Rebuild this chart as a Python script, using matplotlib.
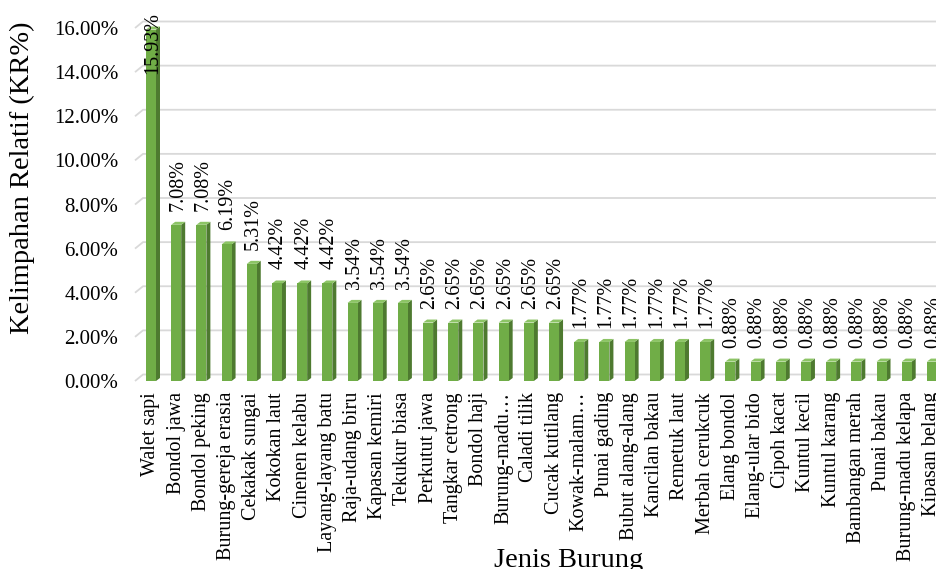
# grafik kelimpahan relatif jenis burung
import numpy as np
import matplotlib
matplotlib.use('Agg')
import matplotlib.pyplot as plt
from matplotlib.patches import Polygon

# data jenis burung dan nilai KR (%)
jenis = ['Walet sapi', 'Bondol jawa', 'Bondol peking', 'Burung-gereja erasia',
         'Cekakak sungai', 'Kokokan laut', 'Cinenen kelabu', 'Layang-layang batu',
         'Raja-udang biru', 'Kapasan kemiri', 'Tekukur biasa', 'Perkutut jawa',
         'Tangkar cetrong', 'Bondol haji', 'Burung-madu…', 'Caladi tilik',
         'Cucak kutilang', 'Kowak-malam…', 'Punai gading', 'Bubut alang-alang',
         'Kancilan bakau', 'Remetuk laut', 'Merbah cerukcuk', 'Elang bondol',
         'Elang-ular bido', 'Cipoh kacat', 'Kuntul kecil', 'Kuntul karang',
         'Bambangan merah', 'Punai bakau', 'Burung-madu kelapa', 'Kipasan belang']
kr = [15.93, 7.08, 7.08, 6.19, 5.31, 4.42, 4.42, 4.42, 3.54, 3.54, 3.54,
      2.65, 2.65, 2.65, 2.65, 2.65, 2.65, 1.77, 1.77, 1.77, 1.77, 1.77, 1.77,
      0.88, 0.88, 0.88, 0.88, 0.88, 0.88, 0.88, 0.88, 0.88]
yticks = [0, 2, 4, 6, 8, 10, 12, 14, 16]

plt.rcParams['font.family'] = ['Liberation Serif', 'DejaVu Serif']

W, H = 937, 569
fig = plt.figure(figsize=(W / 100, H / 100), dpi=100)
# posisi area plot dalam piksel
x0, x1, y_bawah, y_atas = 135, 937, 381, 28
ax = fig.add_axes([x0 / W, 1 - y_bawah / H, (x1 - x0) / W, (y_bawah - y_atas) / H])
x = np.arange(len(jenis))
px_per_x = 25.19
ax.set_xlim((x0 - 151) / px_per_x, (x1 - 151) / px_per_x)
ax.set_ylim(0, 16)
px_per_y = (y_bawah - y_atas) / 16

# efek 3D: geser ke belakang (dalam satuan data)
dx_dinding = 8 / px_per_x
dy_dinding = 6.5 / px_per_y
dx_bar = 4 / px_per_x
dy_bar = 3 / px_per_y
lebar = 10 / px_per_x

# garis grid di dinding belakang
xl, xr = ax.get_xlim()
for g in yticks:
    ax.plot([xl, xl + dx_dinding, xr + 1], [g, g + dy_dinding, g + dy_dinding],
            color='#D9D9D9', lw=1.3, zorder=1, clip_on=False, solid_capstyle='butt')

# batang depan, sisi kanan dan atas
for xi, v in zip(x, kr):
    ax.add_patch(Polygon([(xi + lebar / 2, 0), (xi + lebar / 2 + dx_bar, dy_bar),
                          (xi + lebar / 2 + dx_bar, v + dy_bar), (xi + lebar / 2, v)],
                         closed=True, fc='#4E7A30', ec='none', zorder=3, clip_on=False))
    ax.add_patch(Polygon([(xi - lebar / 2, v), (xi + lebar / 2, v),
                          (xi + lebar / 2 + dx_bar, v + dy_bar), (xi - lebar / 2 + dx_bar, v + dy_bar)],
                         closed=True, fc='#8CC465', ec='none', zorder=3, clip_on=False))
ax.bar(x, kr, width=lebar, color='#70AD47', zorder=4, clip_on=False)

# label nilai di atas batang
for xi, v in zip(x, kr):
    teks = f'{v:.2f}%'
    if v > 12:
        ax.annotate(teks, xy=(xi, 1 - 12 / H), xycoords=('data', 'figure fraction'),
                    xytext=(1.5, 0), textcoords='offset pixels',
                    rotation=90, ha='center', va='top', fontsize=14.5, zorder=5)
    else:
        ax.annotate(teks, xy=(xi, v), xytext=(1.5, 14), textcoords='offset pixels',
                    rotation=90, ha='center', va='bottom', fontsize=14.5, zorder=5)

# sumbu
ax.set_xticks(x)
ax.set_xticklabels(jenis, rotation=90, fontsize=14.5, va='top', ha='center')
ax.set_yticks(yticks)
ax.set_yticklabels([f'{t:.2f}%' for t in yticks], fontsize=15)
ax.tick_params(axis='x', length=0, pad=8)
ax.tick_params(axis='y', length=0, pad=12)
for s in ax.spines.values():
    s.set_visible(False)
ax.patch.set_visible(False)

fig.text(22 / W, 1 - 178 / H, 'Kelimpahan Relatif (KR%)', rotation=90,
         ha='center', va='center', fontsize=20.5)
fig.text(569 / W, 2 / H, 'Jenis Burung', ha='center', va='baseline', fontsize=20.5)

fig.savefig('out.png', dpi=100)
